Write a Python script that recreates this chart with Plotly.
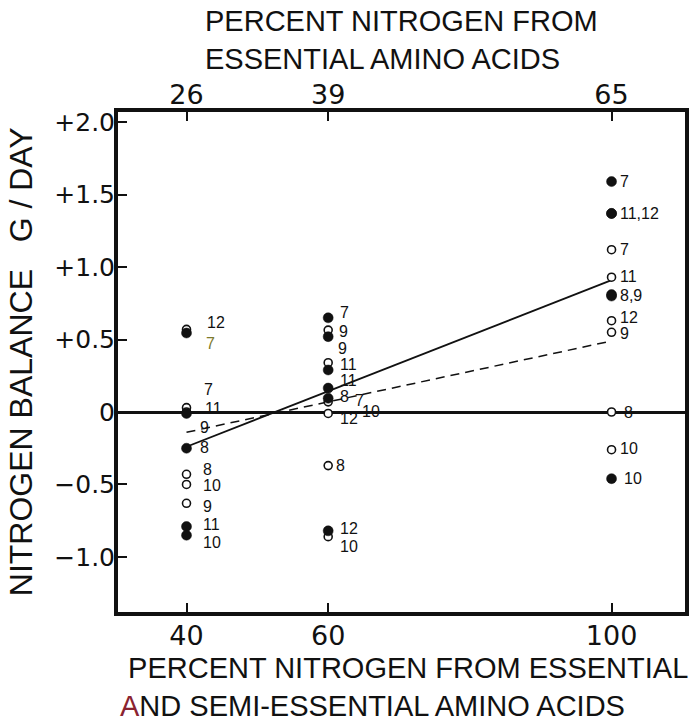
import plotly.graph_objects as go

# ---------------- data ----------------
x_ticks = [40, 60, 100]
x_tick_text = ["40", "60", "100"]
top_tick_text = ["26", "39", "65"]
y_ticks = [2.0, 1.5, 1.0, 0.5, 0.0, -0.5, -1.0]
y_tick_text = ["+2.0", "+1.5", "+1.0", "+0.5", "0", "\u22120.5", "\u22121.0"]

open_x = [40, 40, 40, 40, 40, 40,
          60, 60, 60, 60, 60, 60,
          100, 100, 100, 100, 100, 100]
open_y = [0.57, 0.03, 0.00, -0.43, -0.50, -0.63,
          0.565, 0.34, 0.07, -0.01, -0.37, -0.86,
          1.12, 0.93, 0.63, 0.55, 0.00, -0.26]
open_lbl = ["12", "7", "11", "8", "10", "9",
            "9", "11", "7", "12", "8", "10",
            "7", "11", "12", "9", "8", "10"]

filled_x = [40, 40, 40, 40, 40,
            60, 60, 60, 60, 60, 60,
            100, 100, 100, 100, 100, 100]
filled_y = [0.545, -0.01, -0.25, -0.79, -0.85,
            0.65, 0.52, 0.29, 0.165, 0.095, -0.82,
            1.59, 1.37, 1.37, 0.81, 0.80, -0.46]
filled_lbl = ["7", "9", "8", "11", "10",
              "7", "9", "11", "8", "10", "12",
              "7", "11,12", "", "8,9", "", "10"]

fit_x = [40, 100]
fit_filled = [-0.24, 0.91]
fit_open = [-0.14, 0.49]

# ---------------- label styling (pixel offsets) ----------------
open_dx = [19, 16, 17, 15, 15, 15,
           10, 11, 26, 11, 7, 11,
           7, 7, 7, 7, 11, 7]
open_dy = [7, 18, 4, 5, -1, -3,
           -1, -2, 1, -5, 0, -10,
           0, 1, 3.5, -1, 0, 1.5]
filled_dx = [18, 12, 12, 15, 15,
             11, 9, 11, 11, 33, 11,
             7, 7, 7, 7, 7, 11]
filled_dy = [-10, -14, 1, 2, -7,
             5, -12, -11, -8, -13, 2,
             0, 0, 0, -1, 0, 0]
filled_lbl_color = ["#7d7a2c"] + ["#111111"] * 16

INK = "#111111"
TITLE_FONT = "Liberation Sans, Arial, sans-serif"
TICK_FONT = "DejaVu Sans, sans-serif"

fig = go.Figure()

fig.add_trace(go.Scatter(x=fit_x, y=fit_filled, mode="lines",
                         line=dict(color=INK, width=1.8), hoverinfo="skip"))
fig.add_trace(go.Scatter(x=fit_x, y=fit_open, mode="lines",
                         line=dict(color=INK, width=1.5, dash="9px,6px"), hoverinfo="skip"))
fig.add_trace(go.Scatter(x=open_x, y=open_y, mode="markers",
                         marker=dict(size=8, color="white", symbol="circle",
                                     line=dict(color=INK, width=1.6))))
fig.add_trace(go.Scatter(x=filled_x, y=filled_y, mode="markers",
                         marker=dict(size=10, color=INK, symbol="circle",
                                     line=dict(color=INK, width=0.5))))
# invisible trace to activate top axis
fig.add_trace(go.Scatter(x=x_ticks, y=[None] * 3, xaxis="x2", mode="markers",
                         marker=dict(opacity=0), hoverinfo="skip"))

annotations = []
for xs, ys, lbls, dxs, dys, cols in [
    (open_x, open_y, open_lbl, open_dx, open_dy, [INK] * len(open_lbl)),
    (filled_x, filled_y, filled_lbl, filled_dx, filled_dy, filled_lbl_color),
]:
    for xv, yv, t, dx, dy, c in zip(xs, ys, lbls, dxs, dys, cols):
        if not t:
            continue
        annotations.append(dict(x=xv, y=yv, xref="x", yref="y", text=t,
                                showarrow=False, xanchor="left", yanchor="middle",
                                xshift=dx, yshift=dy, borderpad=0,
                                font=dict(family=TITLE_FONT, size=16, color=c)))

# axis titles
annotations.append(dict(
    x=0.150, y=1.144, xref="paper", yref="paper", showarrow=False,
    xanchor="left", yanchor="middle", align="left",
    text="PERCENT NITROGEN FROM<br>ESSENTIAL AMINO ACIDS",
    font=dict(family=TITLE_FONT, size=29, color=INK)))
annotations.append(dict(
    x=0.0, y=-0.15, xref="paper", yref="paper", showarrow=False,
    xanchor="left", yanchor="middle", align="left",
    text="\u00a0PERCENT NITROGEN FROM ESSENTIAL<br>"
         "<span style='color:#8a2331'>A</span>ND SEMI-ESSENTIAL AMINO ACIDS",
    font=dict(family=TITLE_FONT, size=29, color=INK)))
annotations.append(dict(
    x=-0.1716, y=0.501, xref="paper", yref="paper", showarrow=False,
    xanchor="center", yanchor="middle", textangle=-90,
    text="NITROGEN BALANCE\u00a0\u00a0 G / DAY",
    font=dict(family=TITLE_FONT, size=32, color=INK)))

axis_common = dict(showgrid=False, ticks="inside", ticklen=9, tickwidth=2,
                   tickcolor=INK, showline=True, linewidth=4, linecolor=INK)

fig.update_layout(
    width=693, height=721,
    margin=dict(l=118, r=4, t=112, b=109),
    paper_bgcolor="white", plot_bgcolor="white",
    showlegend=False,
    xaxis=dict(range=[30.33, 110.37], tickvals=x_ticks, ticktext=x_tick_text,
               mirror=True, tickfont=dict(family=TICK_FONT, size=27, color=INK),
               ticklabelstandoff=-3,
               zeroline=False, **axis_common),
    xaxis2=dict(range=[30.33, 110.37], tickvals=x_ticks, ticktext=top_tick_text,
                overlaying="x", side="top", anchor="y",
                tickfont=dict(family=TICK_FONT, size=27, color=INK),
                ticklabelstandoff=-7,
                zeroline=False, **axis_common),
    yaxis=dict(range=[-1.38, 2.07], tickvals=y_ticks, ticktext=y_tick_text,
               mirror=True, tickfont=dict(family=TICK_FONT, size=25, color=INK),
               ticklabelstandoff=-6,
               zeroline=True, zerolinecolor=INK, zerolinewidth=2.5,
               **axis_common),
    annotations=annotations,
)

fig.write_html("out.html")
